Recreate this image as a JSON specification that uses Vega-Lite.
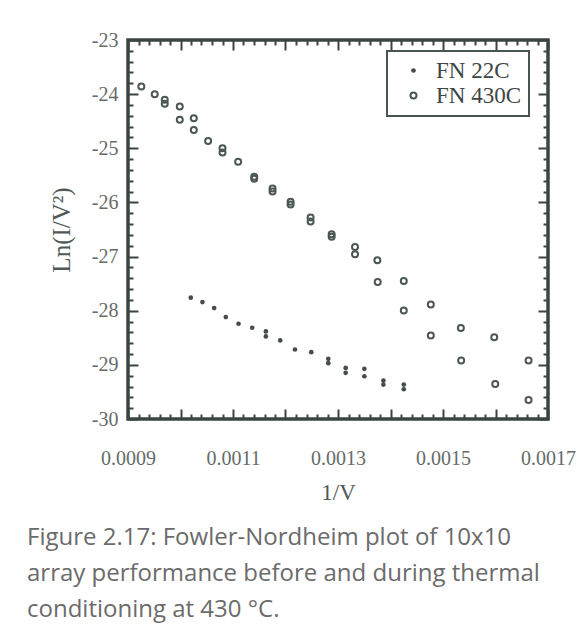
{
  "$schema": "https://vega.github.io/schema/vega-lite/v6.json",
  "autosize": "none",
  "width": 420,
  "height": 379,
  "padding": {"left": 128, "top": 40, "right": 31, "bottom": 207},
  "background": "white",
  "title": {
    "text": ["Figure 2.17: Fowler-Nordheim plot of 10x10", "array performance before and during thermal", "conditioning at 430 °C."],
    "orient": "bottom", "anchor": "start", "frame": "group", "dx": -101, "offset": 22,
    "font": "Open Sans", "fontSize": 24, "fontWeight": "normal", "color": "#6b6b6b", "lineHeight": 36, "baseline": "top"
  },
  "data": {"values": [
    {"series": "FN 430C", "x": 0.0009254, "y": -23.858},
    {"series": "FN 430C", "x": 0.0009509, "y": -24.0},
    {"series": "FN 430C", "x": 0.00097, "y": -24.105},
    {"series": "FN 430C", "x": 0.00097, "y": -24.179},
    {"series": "FN 430C", "x": 0.0009986, "y": -24.228},
    {"series": "FN 430C", "x": 0.0009986, "y": -24.475},
    {"series": "FN 430C", "x": 0.0010253, "y": -24.444},
    {"series": "FN 430C", "x": 0.0010253, "y": -24.66},
    {"series": "FN 430C", "x": 0.0010526, "y": -24.864},
    {"series": "FN 430C", "x": 0.00108, "y": -25.0},
    {"series": "FN 430C", "x": 0.00108, "y": -25.08},
    {"series": "FN 430C", "x": 0.0011098, "y": -25.247},
    {"series": "FN 430C", "x": 0.0011404, "y": -25.525},
    {"series": "FN 430C", "x": 0.0011404, "y": -25.562},
    {"series": "FN 430C", "x": 0.0011753, "y": -25.741},
    {"series": "FN 430C", "x": 0.0011753, "y": -25.796},
    {"series": "FN 430C", "x": 0.0012097, "y": -25.988},
    {"series": "FN 430C", "x": 0.0012097, "y": -26.037},
    {"series": "FN 430C", "x": 0.0012478, "y": -26.278},
    {"series": "FN 430C", "x": 0.0012478, "y": -26.352},
    {"series": "FN 430C", "x": 0.0012879, "y": -26.586},
    {"series": "FN 430C", "x": 0.0012879, "y": -26.636},
    {"series": "FN 430C", "x": 0.0013324, "y": -26.821},
    {"series": "FN 430C", "x": 0.0013324, "y": -26.957},
    {"series": "FN 430C", "x": 0.001375, "y": -27.068},
    {"series": "FN 430C", "x": 0.0013756, "y": -27.469},
    {"series": "FN 430C", "x": 0.0014253, "y": -27.451},
    {"series": "FN 430C", "x": 0.0014253, "y": -27.994},
    {"series": "FN 430C", "x": 0.0014768, "y": -27.883},
    {"series": "FN 430C", "x": 0.0014768, "y": -28.457},
    {"series": "FN 430C", "x": 0.001534, "y": -28.321},
    {"series": "FN 430C", "x": 0.0015346, "y": -28.92},
    {"series": "FN 430C", "x": 0.0015976, "y": -28.488},
    {"series": "FN 430C", "x": 0.0015995, "y": -29.352},
    {"series": "FN 430C", "x": 0.001663, "y": -28.92},
    {"series": "FN 430C", "x": 0.001663, "y": -29.648},
    {"series": "FN 22C", "x": 0.0010196, "y": -27.759},
    {"series": "FN 22C", "x": 0.0010418, "y": -27.84},
    {"series": "FN 22C", "x": 0.0010641, "y": -27.951},
    {"series": "FN 22C", "x": 0.0010863, "y": -28.117},
    {"series": "FN 22C", "x": 0.0011105, "y": -28.241},
    {"series": "FN 22C", "x": 0.0011366, "y": -28.315},
    {"series": "FN 22C", "x": 0.0011626, "y": -28.383},
    {"series": "FN 22C", "x": 0.0011626, "y": -28.475},
    {"series": "FN 22C", "x": 0.00119, "y": -28.549},
    {"series": "FN 22C", "x": 0.001218, "y": -28.716},
    {"series": "FN 22C", "x": 0.0012491, "y": -28.765},
    {"series": "FN 22C", "x": 0.0012815, "y": -28.889},
    {"series": "FN 22C", "x": 0.0012815, "y": -28.969},
    {"series": "FN 22C", "x": 0.0013146, "y": -29.056},
    {"series": "FN 22C", "x": 0.0013146, "y": -29.148},
    {"series": "FN 22C", "x": 0.0013502, "y": -29.074},
    {"series": "FN 22C", "x": 0.0013502, "y": -29.21},
    {"series": "FN 22C", "x": 0.0013865, "y": -29.29},
    {"series": "FN 22C", "x": 0.0013865, "y": -29.364},
    {"series": "FN 22C", "x": 0.0014253, "y": -29.364},
    {"series": "FN 22C", "x": 0.0014253, "y": -29.451}
  ]},
  "layer": [
    {
      "mark": {"type": "point", "strokeWidth": 2, "opacity": 1},
      "encoding": {
        "x": {"field": "x", "type": "quantitative",
          "scale": {"domain": [0.0009, 0.0017], "nice": false, "zero": false},
          "axis": {"orient": "bottom", "ticks": false, "values": [0.0009, 0.0011, 0.0013, 0.0015, 0.0017], "format": ".4f",
            "labelFlush": false, "labelOverlap": false, "labelPadding": 29, "labelFont": "Liberation Serif", "labelFontSize": 20, "labelColor": "#666b69",
            "title": "1/V", "titleFont": "Liberation Serif", "titleFontSize": 23, "titleFontWeight": "normal", "titleColor": "#4f5a56", "titlePadding": 13}},
        "y": {"field": "y", "type": "quantitative",
          "scale": {"domain": [-30, -23], "nice": false, "zero": false},
          "axis": {"orient": "left", "ticks": false, "values": [-30, -29, -28, -27, -26, -25, -24, -23],
            "labelExpr": "toString(datum.value)",
            "labelFlush": false, "labelOverlap": false, "labelPadding": 10, "labelFont": "Liberation Serif", "labelFontSize": 20, "labelColor": "#666b69",
            "title": "Ln(I/V²)", "titleFont": "Liberation Serif", "titleFontSize": 25, "titleFontWeight": "normal", "titleColor": "#4f5a56", "titlePadding": 17}},
        "fill": {"field": "series", "type": "nominal", "scale": {"domain": ["FN 22C", "FN 430C"], "range": ["#454d4a", "transparent"]}, "legend": {"title": null}},
        "stroke": {"field": "series", "type": "nominal", "scale": {"domain": ["FN 22C", "FN 430C"], "range": ["transparent", "#4b5753"]}, "legend": {"title": null}},
        "size": {"field": "series", "type": "nominal", "scale": {"domain": ["FN 22C", "FN 430C"], "range": [22, 36]}, "legend": {"title": null}}
      }
    },
    {
      "mark": {"type": "point", "opacity": 0},
      "encoding": {
        "x": {"field": "x", "type": "quantitative", "axis": {"orient": "bottom", "labels": false, "title": null, "tickSize": -10,
          "values": [0.0009, 0.001, 0.0011, 0.0012, 0.0013, 0.0014, 0.0015, 0.0016, 0.0017]}},
        "y": {"field": "y", "type": "quantitative", "axis": {"orient": "left", "labels": false, "title": null, "tickSize": -10,
          "values": [-30, -29, -28, -27, -26, -25, -24, -23]}}
      }
    },
    {
      "mark": {"type": "point", "opacity": 0},
      "encoding": {
        "x": {"field": "x", "type": "quantitative", "axis": {"orient": "bottom", "labels": false, "title": null, "tickSize": -5,
          "values": [0.00092, 0.00094, 0.00096, 0.00098, 0.00102, 0.00104, 0.00106, 0.00108, 0.00112, 0.00114, 0.00116, 0.00118, 0.00122, 0.00124, 0.00126, 0.00128, 0.00132, 0.00134, 0.00136, 0.00138, 0.00142, 0.00144, 0.00146, 0.00148, 0.00152, 0.00154, 0.00156, 0.00158, 0.00162, 0.00164, 0.00166, 0.00168]}},
        "y": {"field": "y", "type": "quantitative", "axis": {"orient": "left", "labels": false, "title": null, "tickSize": -5,
          "values": [-29.8, -29.6, -29.4, -29.2, -28.8, -28.6, -28.4, -28.2, -27.8, -27.6, -27.4, -27.2, -26.8, -26.6, -26.4, -26.2, -25.8, -25.6, -25.4, -25.2, -24.8, -24.6, -24.4, -24.2, -23.8, -23.6, -23.4, -23.2]}}
      }
    },
    {
      "mark": {"type": "point", "opacity": 0},
      "encoding": {
        "x": {"field": "x", "type": "quantitative", "axis": {"orient": "top", "labels": false, "title": null, "tickSize": -10,
          "values": [0.0009, 0.001, 0.0011, 0.0012, 0.0013, 0.0014, 0.0015, 0.0016, 0.0017]}},
        "y": {"field": "y", "type": "quantitative", "axis": {"orient": "right", "labels": false, "title": null, "tickSize": -10,
          "values": [-30, -29, -28, -27, -26, -25, -24, -23]}}
      }
    },
    {
      "mark": {"type": "point", "opacity": 0},
      "encoding": {
        "x": {"field": "x", "type": "quantitative", "axis": {"orient": "top", "labels": false, "title": null, "tickSize": -5,
          "values": [0.00092, 0.00094, 0.00096, 0.00098, 0.00102, 0.00104, 0.00106, 0.00108, 0.00112, 0.00114, 0.00116, 0.00118, 0.00122, 0.00124, 0.00126, 0.00128, 0.00132, 0.00134, 0.00136, 0.00138, 0.00142, 0.00144, 0.00146, 0.00148, 0.00152, 0.00154, 0.00156, 0.00158, 0.00162, 0.00164, 0.00166, 0.00168]}},
        "y": {"field": "y", "type": "quantitative", "axis": {"orient": "right", "labels": false, "title": null, "tickSize": -5,
          "values": [-29.8, -29.6, -29.4, -29.2, -28.8, -28.6, -28.4, -28.2, -27.8, -27.6, -27.4, -27.2, -26.8, -26.6, -26.4, -26.2, -25.8, -25.6, -25.4, -25.2, -24.8, -24.6, -24.4, -24.2, -23.8, -23.6, -23.4, -23.2]}}
      }
    }
  ],
  "resolve": {"axis": {"x": "independent", "y": "independent"}},
  "config": {
    "view": {"stroke": "#3a4541", "strokeWidth": 3.5},
    "axis": {"domain": false, "grid": false, "tickColor": "#3a4541", "tickWidth": 2},
    "legend": {
      "orient": "none", "legendX": 259, "legendY": 11,
      "strokeColor": "#4a5450", "strokeWidth": 2, "padding": 8, "fillColor": "white",
      "labelFont": "Liberation Serif", "labelFontSize": 23, "labelColor": "#3e4643",
      "symbolOffset": 7, "labelOffset": 11, "rowPadding": 1, "symbolStrokeWidth": 2
    }
  }
}
